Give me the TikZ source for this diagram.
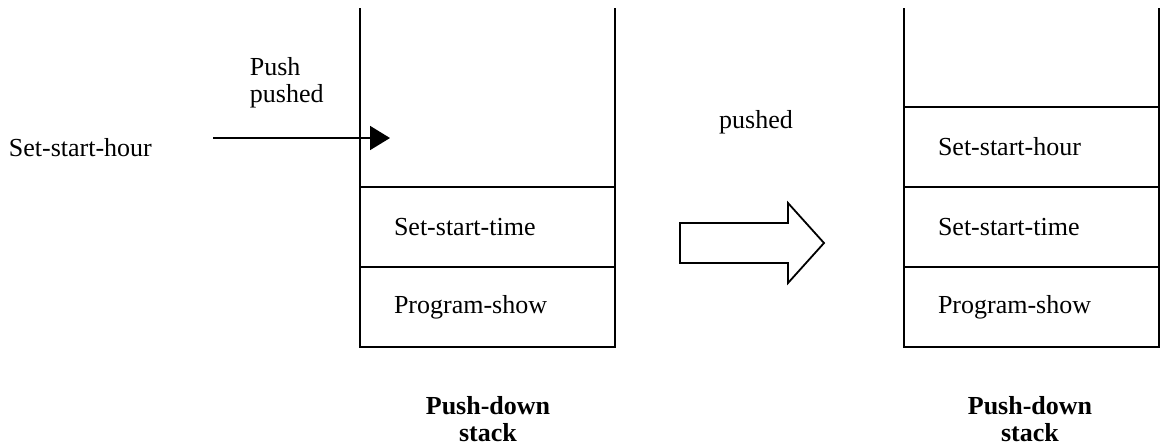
\documentclass[tikz,border=0pt]{standalone}
\usepackage{fontspec}
\setmainfont{Liberation Serif}
\usetikzlibrary{arrows.meta,positioning}

\begin{document}
\begin{tikzpicture}[  x=0.5pt,  y=-0.5pt,  line width=0.9pt,  font=\fontsize{13}{13.5}\selectfont,  cell/.style={draw, minimum height=40pt, inner xsep=17pt, outer sep=0pt, text width=93.5pt, align=left, anchor=north west},  lbl/.style={inner sep=0pt, anchor=west, align=left},  caption/.style={align=center, font=\fontsize{13}{13.5}\selectfont\bfseries},  ]
  \useasboundingbox (0,0) rectangle (1161,447);

  \node[cell] (ltime) at (360,187) {Set-start-time};
  \node[cell, below=0pt of ltime] (lshow) {Program-show};
  \draw (ltime.north west) -- ++(0,-179);
  \draw (ltime.north east) -- ++(0,-179);

  \node[cell] (rhour) at (904,107) {Set-start-hour};
  \node[cell, below=0pt of rhour] (rtime) {Set-start-time};
  \node[cell, below=0pt of rtime] (rshow) {Program-show};
  \draw (rhour.north west) -- ++(0,-99);
  \draw (rhour.north east) -- ++(0,-99);

  \node[lbl] (hour) at (8,148) {Set-start-hour};
  \node[lbl] (push) at (249,83) {Push\\pushed};
  \coordinate (tail) at (213,138);
  \coordinate (slot) at (390,138);
  \draw[-{Triangle[length=10pt,width=12pt]}] (tail) -- (slot);

  \node (moved) at (756,122) {pushed};
  \draw (680,223) -- (788,223) -- (788,203) -- (824,243) -- (788,283) -- (788,263) -- (680,263) -- cycle;

  \node[caption] (lcap) at (488,419) {Push-down\\stack};
  \node[caption] (rcap) at (1030,419) {Push-down\\stack};
\end{tikzpicture}
\end{document}
